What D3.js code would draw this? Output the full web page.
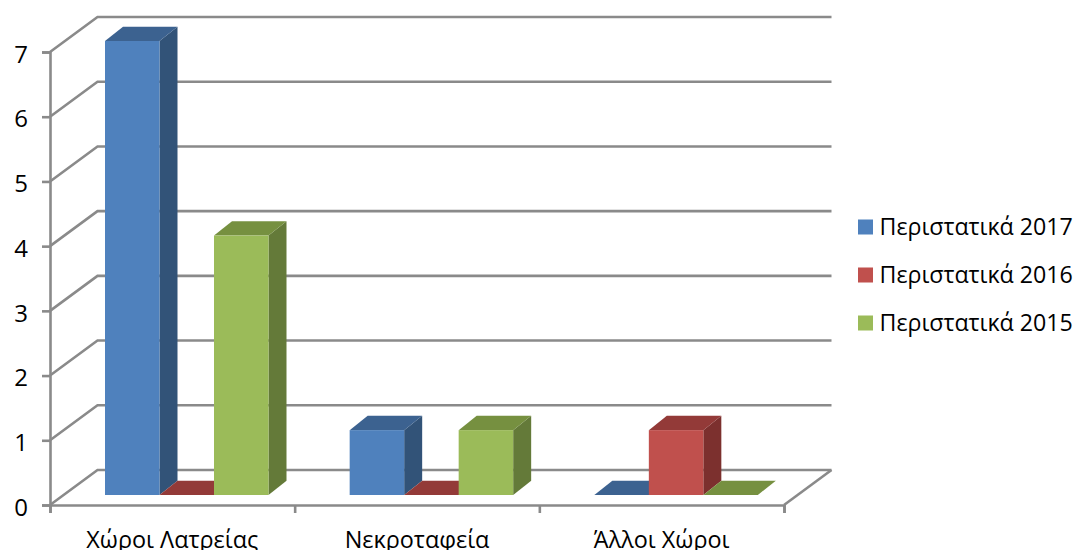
<!DOCTYPE html>
<html>
<head>
<meta charset="utf-8">
<script src="https://cdn.jsdelivr.net/npm/d3@7"></script>
<style>
  html, body { margin: 0; padding: 0; background: #fff; overflow: hidden; }
  text { font-family: "Open Sans", sans-serif; fill: #000; }
</style>
</head>
<body>
<script>
const categories = ["Χώροι Λατρείας", "Νεκροταφεία", "Άλλοι Χώροι"];
const seriesNames = ["Περιστατικά 2017", "Περιστατικά 2016", "Περιστατικά 2015"];
const values2017 = [7, 1, 0];
const values2016 = [0, 0, 1];
const values2015 = [4, 1, 0];
const yTicks = [0, 1, 2, 3, 4, 5, 6, 7];

const seriesValues = [values2017, values2016, values2015];
const frontColors = ["#4f81bd", "#c0504d", "#9bbb59"];
const topColors = ["#3c6290", "#933a38", "#769040"];
const sideColors = ["#325378", "#7c302e", "#647a39"];
const lineColor = "#8a8a8a";

const w = 1075, h = 550;

// wall depth and bar depth of the fake 3d
const wallDx = 47.5, wallDy = -35;
const barDx = 18, barDy = -14.3;
const barBase = 495;

const svg = d3.select("body").append("svg")
  .attr("width", w)
  .attr("height", h)
  .style("display", "block");

const xScale = d3.scaleBand().domain(d3.range(categories.length)).range([50, 784]);
const yScale = d3.scaleLinear().domain([0, 7]).range([505, 52]);
const barHeight = d3.scaleLinear().domain([0, 7]).range([0, 454]);
const innerScale = d3.scaleBand().domain(d3.range(seriesNames.length))
  .range([55, 55 + 163.5]);

// GRID
const grid = svg.append("g")
  .attr("fill", "none")
  .attr("stroke", lineColor)
  .attr("stroke-width", 2.6);

grid.selectAll("path.wall")
  .data(yTicks)
  .enter()
  .append("path")
  .attr("class", "wall")
  .attr("d", d => {
    const y = yScale(d);
    return `M50,${y}L${50 + wallDx},${y + wallDy}L${784 + wallDx},${y + wallDy}`;
  });

// floor edge on the right
grid.append("path")
  .attr("d", `M784,505L${784 + wallDx},${505 + wallDy}`);

// AXES
const yAxis = d3.axisLeft(yScale).tickValues(yTicks).tickSize(8).tickPadding(14).tickFormat(d3.format("d"));
const axisY = svg.append("g")
  .attr("transform", "translate(50,0)")
  .call(yAxis);

const axisX = svg.append("g")
  .attr("transform", "translate(0,505)")
  .call(d3.axisBottom(d3.scaleLinear().domain([0, 3]).range([50, 784]))
    .tickValues([0, 1, 2, 3]).tickSize(8).tickFormat(""));

[axisY, axisX].forEach(g => {
  g.selectAll(".domain").attr("stroke", lineColor).attr("stroke-width", 2.6);
  g.selectAll(".tick line").attr("stroke", lineColor).attr("stroke-width", 2.6);
});
axisY.selectAll("text")
  .attr("y", 2.5)
  .style("font-size", "24px")
  .style("font-family", "'Open Sans', sans-serif")
  .attr("fill", "#000");

svg.append("g")
  .selectAll("text")
  .data(categories)
  .enter()
  .append("text")
  .attr("x", (d, i) => xScale(i) + xScale.bandwidth() / 2)
  .attr("y", 548)
  .attr("text-anchor", "middle")
  .style("font-size", "23.4px")
  .text(d => d);

// BARS
categories.forEach((c, ci) => {
  const group = svg.append("g");
  seriesValues.forEach((vals, si) => {
    const x0 = xScale(ci) + innerScale(si);
    const x1 = x0 + innerScale.bandwidth();
    const top = barBase - barHeight(vals[ci]);
    if (vals[ci] > 0) {
      group.append("path")
        .attr("fill", sideColors[si])
        .attr("d", `M${x1},${top}L${x1 + barDx},${top + barDy}L${x1 + barDx},${barBase + barDy}L${x1},${barBase}Z`);
    }
    group.append("path")
      .attr("fill", topColors[si])
      .attr("d", `M${x0},${top}L${x0 + barDx},${top + barDy}L${x1 + barDx},${top + barDy}L${x1},${top}Z`);
    if (vals[ci] > 0) {
      group.append("rect")
        .attr("x", x0)
        .attr("y", top)
        .attr("width", x1 - x0)
        .attr("height", barBase - top)
        .attr("fill", frontColors[si]);
    }
  });
});

// LEGEND
const legendY = d3.scalePoint().domain(seriesNames).range([227, 323]);
const legend = svg.append("g")
  .selectAll("g")
  .data(seriesNames)
  .enter()
  .append("g")
  .attr("transform", d => `translate(858,${legendY(d)})`);

legend.append("rect")
  .attr("y", -7.5)
  .attr("width", 15)
  .attr("height", 15)
  .attr("fill", (d, i) => frontColors[i]);

legend.append("text")
  .attr("x", 21.5)
  .attr("y", 8)
  .style("font-size", "23.2px")
  .text(d => d);
</script>
</body>
</html>
